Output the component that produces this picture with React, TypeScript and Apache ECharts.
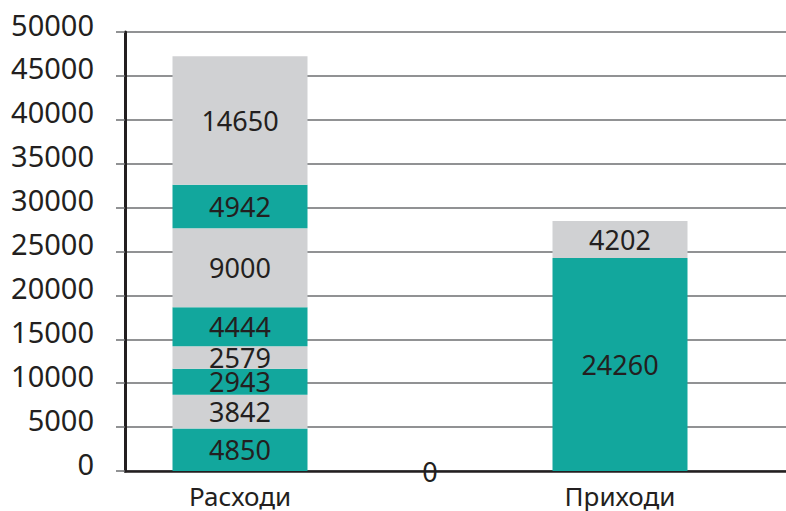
import React, { useEffect, useRef } from "react";
import * as echarts from "echarts";

// Categories on the x axis (the middle slot is an unnamed empty column)
const categories: string[] = ["Расходи", "", "Приходи"];

// Stacked segments, bottom to top; null = no segment in that column
const segment1: (number | null)[] = [4850, 0, 24260];
const segment2: (number | null)[] = [3842, null, 4202];
const segment3: (number | null)[] = [2943, null, null];
const segment4: (number | null)[] = [2579, null, null];
const segment5: (number | null)[] = [4444, null, null];
const segment6: (number | null)[] = [9000, null, null];
const segment7: (number | null)[] = [4942, null, null];
const segment8: (number | null)[] = [14650, null, null];

const segments = [segment1, segment2, segment3, segment4, segment5, segment6, segment7, segment8];

// Value axis
const yMin = 0;
const yMax = 50000;
const yStep = 5000;

const TEAL = "#12a79d";
const GREY = "#d0d1d3";
const INK = "#231f20";
const FONT = "Noto Sans";

export default function App() {
  const ref = useRef<HTMLDivElement>(null);

  useEffect(() => {
    if (!ref.current) return;
    const chart = echarts.init(ref.current, undefined, { renderer: "svg" });

    const gridTop = 32;
    const gridBottom = 40;

    chart.setOption({
      animation: false,
      backgroundColor: "#ffffff",
      grid: [
        // frame: value axis, gridlines and baseline
        { left: 125, right: 0, top: gridTop, bottom: gridBottom },
        // columns
        { left: 145, right: 71, top: gridTop, bottom: gridBottom },
      ],
      xAxis: [
        {
          gridIndex: 0,
          type: "value",
          min: 0,
          max: 1,
          axisLine: { show: true, onZero: false, lineStyle: { color: INK, width: 2.5 } },
          axisTick: { show: false },
          axisLabel: { show: false },
          splitLine: { show: false },
        },
        {
          gridIndex: 1,
          type: "category",
          data: categories,
          axisLine: { show: false },
          axisTick: { show: false },
          axisLabel: {
            show: true,
            interval: 0,
            color: INK,
            fontFamily: FONT,
            fontSize: 26,
            lineHeight: 26,
            margin: 12,
          },
        },
      ],
      yAxis: [
        {
          gridIndex: 0,
          type: "value",
          min: yMin,
          max: yMax,
          interval: yStep,
          axisLine: { show: true, lineStyle: { color: INK, width: 3 } },
          axisTick: { show: true, inside: false, length: 9, lineStyle: { color: "#6d6e71", width: 1.5 } },
          splitLine: { show: true, lineStyle: { color: "#6d6e71", width: 1.5 } },
          axisLabel: {
            color: INK,
            fontFamily: FONT,
            fontSize: 29,
            margin: 31,
            verticalAlign: "bottom",
            lineHeight: 16,
            formatter: (v: number) => String(v),
          },
        },
        {
          gridIndex: 1,
          type: "value",
          min: yMin,
          max: yMax,
          interval: yStep,
          show: false,
        },
      ],
      series: segments.map((values, i) => ({
        type: "bar",
        xAxisIndex: 1,
        yAxisIndex: 1,
        stack: "total",
        barWidth: 135,
        data: values,
        itemStyle: { color: i % 2 === 0 ? TEAL : GREY },
        label: {
          show: true,
          position: "inside",
          color: INK,
          fontFamily: FONT,
          fontSize: 27,
          lineHeight: 21,
        },
      })),
    });

    return () => chart.dispose();
  }, []);

  return (
    <div
      ref={ref}
      style={{ position: "fixed", left: 0, top: 0, width: 786, height: 511 }}
    />
  );
}
